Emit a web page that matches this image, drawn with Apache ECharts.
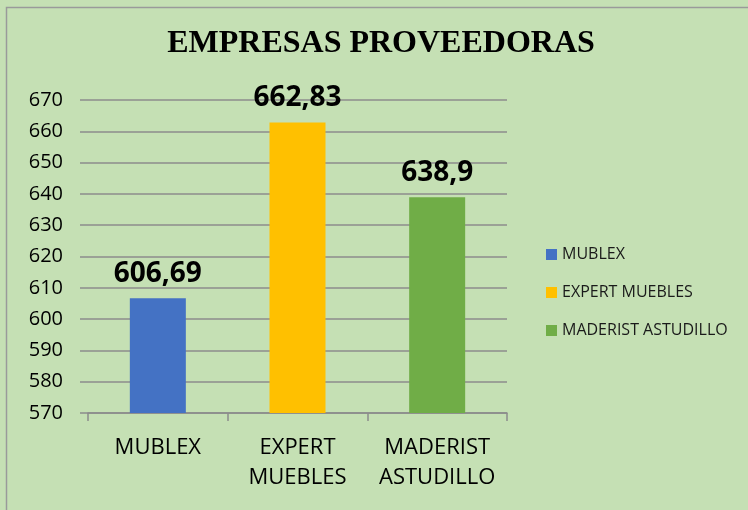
<!DOCTYPE html>
<html>
<head>
<meta charset="utf-8">
<script src="https://cdn.jsdelivr.net/npm/echarts@6/dist/echarts.min.js"></script>
<style>
html,body{margin:0;padding:0;background:#C5E0B4;}
#chart{width:748px;height:510px;}
</style>
</head>
<body>
<div id="chart"></div>
<script>
var titleText = 'EMPRESAS PROVEEDORAS';
var categories = ['MUBLEX', 'EXPERT\nMUEBLES', 'MADERIST\nASTUDILLO'];
var seriesNames = ['MUBLEX', 'EXPERT MUEBLES', 'MADERIST ASTUDILLO'];
var values = [606.69, 662.83, 638.9];
var colors = ['#4472C4', '#FFC000', '#70AD47'];
var yMin = 570, yMax = 670, yInterval = 10;

var chart = echarts.init(document.getElementById('chart'));
var series = seriesNames.map(function (name, i) {
  var data = values.map(function (v, j) { return j === i ? v : '-'; });
  return {
    name: name,
    type: 'bar',
    data: data,
    barWidth: 56,
    barGap: '-100%',
    itemStyle: { color: colors[i] },
    label: {
      show: true,
      position: 'top',
      distance: 10,
      fontFamily: 'Open Sans',
      fontWeight: 'bold',
      fontSize: 28,
      color: '#000',
      formatter: function (p) { return String(p.value).replace('.', ','); }
    }
  };
});

chart.setOption({
  backgroundColor: '#C5E0B4',
  animation: false,
  title: {
    text: titleText,
    left: 376,
    textAlign: 'center',
    top: 23,
    textStyle: { fontFamily: 'Liberation Serif', fontWeight: 'bold', fontSize: 32, color: '#000' }
  },
  legend: {
    orient: 'vertical',
    left: 541,
    top: 241,
    itemWidth: 11,
    itemHeight: 11,
    itemGap: 21,
    icon: 'rect',
    textStyle: { fontFamily: 'Open Sans', fontSize: 16, color: '#1a1a1a', lineHeight: 17 },
    data: seriesNames
  },
  grid: { left: 88, right: 241, top: 100, bottom: 97 },
  xAxis: {
    type: 'category',
    data: categories,
    axisLine: { lineStyle: { color: '#8c8c8c', width: 1.5 } },
    axisTick: { show: true, length: 8, lineStyle: { color: '#8c8c8c', width: 1.5 } },
    axisLabel: { interval: 0, margin: 20, fontFamily: 'Open Sans', fontSize: 22, color: '#000', lineHeight: 30 }
  },
  yAxis: {
    type: 'value',
    min: yMin,
    max: yMax,
    interval: yInterval,
    axisLine: { show: false },
    axisTick: { show: true, length: 8, lineStyle: { color: '#8c8c8c', width: 1.5 } },
    splitLine: { lineStyle: { color: '#8c8c8c', width: 1.5 } },
    axisLabel: { margin: 25, fontFamily: 'Open Sans', fontSize: 20, color: '#000' }
  },
  graphic: [{
    type: 'rect',
    shape: { x: 6.5, y: 7.5, width: 800, height: 600 },
    style: { fill: 'none', stroke: '#9a9a9a', lineWidth: 1.5 },
    silent: true,
    z: 100
  }],
  series: series
});
</script>
</body>
</html>
